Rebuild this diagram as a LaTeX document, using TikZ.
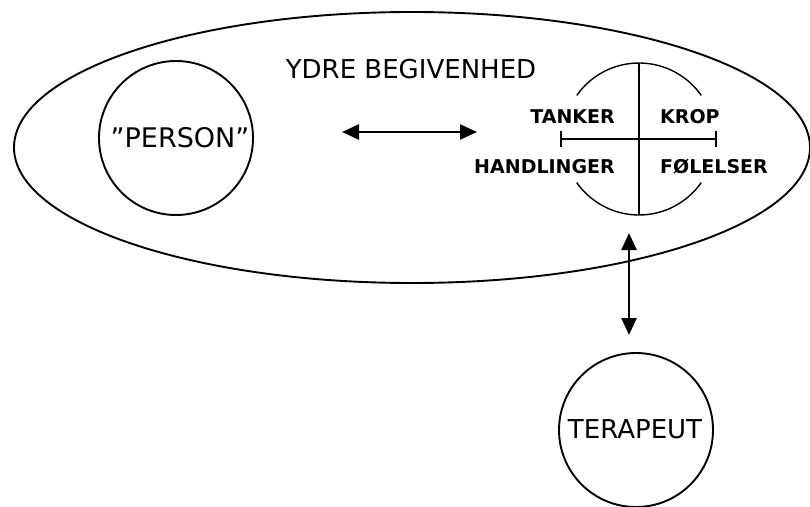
\documentclass[tikz,border=0pt]{standalone}
\usepackage{fontspec}
\setmainfont{DejaVu Sans}
\usetikzlibrary{arrows.meta}
\tikzset{
  outline/.style={line width=1.9pt},
  thin/.style={line width=1.4pt},
  dblarrow/.style={line width=2.5pt, {Triangle[length=17pt,width=15pt]}-{Triangle[length=17pt,width=15pt]}},
  bold label/.style={font=\fontsize{19}{22}\selectfont\bfseries, inner sep=0pt},
  big label/.style={font=\fontsize{26}{30}\selectfont, inner sep=0pt},
}
\begin{document}
\begin{tikzpicture}[x=1pt,y=-1pt]
\useasboundingbox (0,0) rectangle (810,506);
% big ellipse
\draw[outline] (412,147.5) ellipse [x radius=398, y radius=135.5];
\node[big label, anchor=base] (ydre) at (411,78) {YDRE BEGIVENHED};
% person
\node[draw, outline, circle, minimum size=154pt, inner sep=0pt] (person) at (176,138) {};
\node[big label, font=\fontsize{27}{30}\selectfont] (persontxt) at (180,138) {”PERSON”};
% right quadrant circle
\coordinate (rc) at (639,139);
\draw[thin] (rc) ++(35:76) arc[start angle=35, end angle=145, radius=76];
\draw[thin] (rc) ++(215:76) arc[start angle=215, end angle=325, radius=76];
\draw[thin] (639,63) -- (639,215);
\draw[thin] (561,139) -- (716,139);
\draw[thin] (561,131) -- (561,147);
\draw[thin] (716,131) -- (716,147);
\node[bold label, anchor=base east] (tanker) at (615,123) {TANKER};
\node[bold label, anchor=base west] (krop) at (660,123) {KROP};
\node[bold label, anchor=base east] (handl) at (615,173) {HANDLINGER};
\node[bold label, anchor=base west] (fol) at (660,173) {FØLELSER};
% terapeut
\node[draw, outline, circle, minimum size=154pt, inner sep=0pt] (terapeut) at (636,430) {};
\node[big label] (teratxt) at (635,429) {TERAPEUT};
% arrows
\coordinate (h1) at (342,132);
\coordinate (h2) at (477,132);
\draw[dblarrow] (h1) -- (h2);
\coordinate (v1) at (629,233);
\coordinate (v2) at (629,335);
\draw[dblarrow] (v1) -- (v2);
\end{tikzpicture}
\end{document}
